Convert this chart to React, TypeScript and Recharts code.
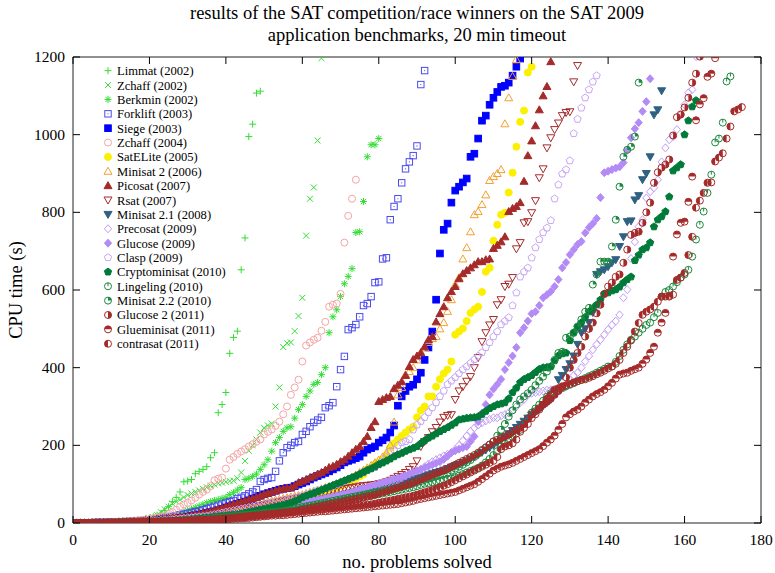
// Cactus plot of SAT competition winners on the SAT 2009 application set.
// One scatter per solver, x = number of problems solved, y = CPU time of that
// problem. Marker shapes are drawn by hand so the gnuplot symbols survive.

import { ReferenceArea, Scatter, ScatterChart, XAxis, YAxis } from "recharts";

const W = 775;
const H = 573;
const PLOT_LEFT = 73;
const PLOT_RIGHT = 761;
const PLOT_TOP = 57;
const PLOT_BOTTOM = 523;
const FONT = '"Liberation Serif", "DejaVu Serif", serif';
const LABEL_SIZE = 18.5;

const X_TICKS = [0, 20, 40, 60, 80, 100, 120, 140, 160, 180];
const Y_TICKS = [0, 200, 400, 600, 800, 1000, 1200];

// CPU time (s) of the n-th solved problem, n = 1..length
const limmat = [
  0, 0, 0, 1, 1, 1, 2, 2, 2, 3, 3, 4, 4, 5, 6, 7, 8, 9, 11, 13,
  16, 20, 25, 32, 42, 55, 66, 80, 106, 108, 112, 127, 133, 138, 145, 168, 181, 284, 305, 336,
  437, 478, 494, 652, 734, 995, 1027, 1107, 1112,
];
const zchaff02 = [
  0, 0, 0, 1, 1, 1, 1, 2, 2, 2, 3, 3, 4, 4, 5, 6, 7, 8, 10, 12,
  15, 20, 28, 35, 42, 50, 55, 60, 66, 72, 76, 80, 84, 88, 92, 96, 99, 102, 104, 106,
  108, 109, 115, 130, 160, 186, 200, 215, 233, 245, 251, 256, 300, 349, 453, 463, 465, 494, 533, 580,
  740, 835, 864, 985, 1197,
];
const berkmin = [
  0, 0, 0, 1, 1, 1, 1, 2, 2, 2, 2, 3, 3, 4, 4, 5, 5, 6, 7, 8,
  9, 10, 12, 14, 16, 18, 21, 24, 28, 32, 36, 40, 44, 48, 52, 55, 58, 60, 63, 66,
  73, 78, 85, 91, 112, 115, 120, 126, 138, 150, 163, 185, 207, 220, 236, 245, 248, 270, 292, 305,
  326, 340, 357, 362, 382, 400, 490, 531, 549, 583, 616, 635, 655, 748, 750, 828, 943, 974, 974, 990,
];
const forklift = [
  0, 0, 0, 0, 1, 1, 1, 1, 2, 2, 2, 3, 3, 4, 4, 5, 5, 6, 7, 8,
  9, 10, 12, 13, 15, 17, 19, 21, 23, 25, 27, 29, 31, 34, 37, 40, 43, 46, 49, 52,
  55, 58, 63, 66, 70, 75, 80, 86, 107, 112, 115, 117, 133, 160, 181, 194, 200, 207, 210, 228,
  236, 248, 259, 265, 272, 297, 302, 310, 351, 395, 429, 498, 503, 511, 531, 560, 565, 583, 619, 621,
  680, 683, 781, 815, 835, 876, 912, 930, 946, 971, 1129, 1165,
];
const siege = [
  0, 0, 0, 0, 0, 1, 1, 1, 1, 1, 2, 2, 2, 3, 3, 3, 4, 4, 5, 5,
  6, 7, 8, 9, 10, 11, 12, 13, 14, 16, 18, 20, 22, 24, 26, 28, 30, 33, 36, 40,
  43, 46, 49, 52, 55, 58, 62, 66, 70, 74, 77, 80, 83, 86, 88, 90, 91, 95, 99, 103,
  107, 112, 117, 121, 125, 129, 133, 138, 143, 149, 156, 160, 163, 167, 171, 181, 189, 193, 197, 207,
  213, 220, 233, 251, 302, 326, 340, 351, 356, 370, 387, 420, 452, 493, 575, 694, 755, 771, 825, 856,
  866, 877, 887, 943, 951, 990, 1036, 1049, 1077, 1095, 1110, 1123, 1126, 1134, 1152, 1175, 1196,
];
const zchaff04 = [
  0, 0, 0, 1, 1, 1, 1, 2, 2, 2, 3, 3, 4, 4, 5, 6, 7, 8, 9, 10,
  12, 14, 17, 20, 24, 28, 34, 42, 48, 52, 58, 65, 73, 80, 86, 95, 110, 114, 117, 140,
  163, 170, 178, 184, 190, 197, 203, 209, 215, 228, 235, 241, 250, 261, 280, 300, 330, 349, 369, 416,
  457, 465, 472, 477, 495, 518, 557, 562, 565, 590, 722, 791, 835, 884,
];
const satelite = [
  0, 0, 0, 0, 0, 1, 1, 1, 1, 1, 1, 2, 2, 2, 2, 3, 3, 3, 4, 4,
  5, 5, 6, 6, 7, 8, 8, 9, 10, 11, 12, 13, 14, 15, 16, 17, 18, 20, 22, 24,
  26, 28, 30, 32, 34, 36, 38, 40, 43, 46, 48, 51, 54, 56, 58, 60, 62, 64, 66, 68,
  70, 72, 75, 78, 79, 81, 84, 86, 91, 96, 100, 104, 110, 115, 120, 125, 138, 142, 151, 155,
  163, 175, 194, 205, 215, 224, 233, 241, 248, 272, 290, 300, 326, 326, 351, 370, 385, 395, 416, 485,
  493, 501, 520, 541, 550, 557, 595, 647, 657, 727, 768, 794, 799, 851, 902, 969, 1033, 1062, 1160, 1175,
];
const minisat2 = [
  0, 0, 0, 0, 1, 1, 1, 1, 1, 2, 2, 2, 2, 3, 3, 3, 4, 4, 5, 5,
  6, 6, 7, 8, 9, 10, 11, 12, 13, 14, 15, 16, 17, 18, 19, 21, 23, 25, 27, 29,
  31, 33, 35, 37, 39, 41, 43, 46, 49, 52, 55, 57, 59, 61, 63, 65, 67, 69, 71, 73,
  76, 79, 82, 85, 88, 91, 94, 97, 100, 104, 108, 113, 118, 124, 130, 136, 142, 148, 155, 162,
  170, 180, 200, 260, 330, 349, 382, 390, 400, 420, 440, 451, 465, 475, 480, 500, 516, 545, 575, 614,
  632, 680, 709, 750, 794, 802, 820, 845, 882, 892, 900, 910, 1028, 1095, 1150, 1193,
];
const picosat = [
  0, 0, 0, 0, 1, 1, 1, 1, 2, 2, 2, 3, 3, 3, 4, 4, 5, 5, 6, 7,
  8, 9, 10, 11, 12, 13, 14, 15, 16, 18, 20, 22, 24, 26, 28, 30, 33, 36, 39, 42,
  45, 48, 51, 54, 57, 60, 63, 66, 70, 74, 77, 80, 83, 86, 88, 90, 91, 96, 104, 108,
  112, 117, 121, 126, 130, 136, 143, 146, 151, 158, 163, 172, 181, 190, 197, 210, 223, 246, 261, 313,
  318, 323, 326, 346, 355, 364, 380, 403, 421, 430, 438, 454, 472, 480, 518, 539, 557, 580, 596, 609,
  629, 642, 650, 657, 665, 673, 673, 678, 680, 707, 715, 724, 737, 802, 810, 815, 825, 880, 946, 984,
  1023, 1064, 1100, 1124, 1188,
];
const rsat = [
  0, 0, 0, 0, 1, 1, 1, 1, 1, 2, 2, 2, 3, 3, 3, 4, 4, 5, 5, 6,
  6, 7, 7, 8, 9, 10, 11, 12, 13, 14, 15, 16, 17, 18, 19, 20, 21, 23, 25, 27,
  29, 31, 33, 35, 37, 39, 41, 43, 45, 47, 49, 51, 53, 55, 57, 59, 61, 63, 65, 67,
  69, 71, 73, 75, 77, 79, 81, 83, 85, 87, 89, 90, 91, 93, 95, 96, 97, 98, 99, 101,
  103, 106, 110, 115, 120, 125, 130, 138, 145, 160, 197, 210, 220, 235, 246, 260, 272, 277, 279, 318,
  340, 351, 365, 377, 400, 426, 467, 490, 510, 524, 562, 575, 609, 615, 632, 706, 722, 773, 776, 799,
  830, 889, 912, 966, 992, 1013, 1030, 1049, 1057, 1059, 1136, 1178,
];
const minisat21 = [
  0, 0, 0, 0, 0, 0, 1, 1, 1, 1, 1, 1, 2, 2, 2, 2, 3, 3, 3, 4,
  4, 4, 5, 5, 6, 6, 7, 7, 8, 8, 9, 10, 10, 11, 12, 13, 14, 15, 16, 17,
  18, 19, 20, 21, 22, 23, 24, 26, 28, 30, 32, 34, 36, 38, 40, 42, 44, 46, 48, 50,
  52, 54, 56, 58, 60, 62, 64, 66, 68, 70, 72, 74, 76, 78, 80, 82, 84, 86, 88, 90,
  92, 94, 96, 98, 100, 103, 106, 109, 112, 115, 118, 121, 124, 127, 130, 133, 136, 140, 144, 148,
  152, 156, 160, 165, 170, 176, 182, 188, 194, 200, 207, 214, 222, 230, 238, 246, 254, 262, 270, 278,
  286, 294, 302, 310, 318, 340, 369, 380, 395, 410, 430, 460, 490, 500, 516, 542, 640, 647, 652, 660,
  670, 678, 712, 737, 776, 778, 832, 843, 884, 900, 943, 1051, 1064, 1113,
];
const precosat = [
  0, 0, 0, 0, 0, 0, 0, 1, 1, 1, 1, 1, 1, 2, 2, 2, 2, 3, 3, 3,
  4, 4, 4, 5, 5, 6, 6, 7, 7, 8, 8, 9, 9, 10, 11, 11, 12, 13, 14, 15,
  16, 17, 18, 19, 20, 21, 22, 23, 24, 26, 27, 28, 30, 31, 33, 34, 36, 38, 40, 42,
  44, 46, 48, 50, 52, 54, 56, 58, 60, 62, 64, 66, 68, 70, 73, 76, 79, 82, 86, 90,
  94, 98, 102, 106, 111, 116, 121, 126, 131, 135, 138, 145, 152, 158, 163, 168, 173, 177, 181, 190,
  200, 212, 224, 236, 245, 252, 258, 263, 267, 271, 271, 276, 279, 284, 290, 300, 310, 318, 330, 334,
  336, 338, 340, 342, 343, 345, 347, 349, 351, 368, 380, 387, 400, 416, 430, 446, 460, 472, 485, 498,
  510, 520, 536, 580, 601, 681, 724, 763, 781, 837, 853, 863, 884, 930, 966, 987, 995, 1013, 1051, 1077,
  1108, 1116, 1201,
];
const glucose = [
  0, 0, 0, 0, 0, 1, 1, 1, 1, 1, 1, 2, 2, 2, 2, 3, 3, 3, 4, 4,
  4, 5, 5, 6, 6, 7, 7, 8, 9, 10, 11, 12, 13, 14, 15, 16, 17, 18, 19, 20,
  21, 22, 23, 24, 25, 26, 27, 28, 30, 32, 34, 36, 38, 40, 42, 44, 46, 48, 50, 52,
  54, 56, 58, 60, 62, 64, 66, 68, 70, 72, 74, 77, 80, 83, 86, 89, 92, 95, 98, 101,
  104, 107, 110, 113, 116, 119, 122, 126, 130, 134, 138, 142, 146, 150, 154, 158, 164, 172, 181, 186,
  190, 194, 197, 210, 223, 261, 283, 305, 330, 345, 357, 370, 395, 413, 430, 452, 490, 503, 520, 539,
  544, 560, 580, 588, 596, 609, 627, 657, 671, 691, 704, 717, 725, 747, 761, 771, 784, 838, 902, 906,
  910, 914, 917, 928, 960, 992, 1015, 1031, 1060, 1085, 1144,
];
const clasp = [
  0, 0, 0, 0, 1, 1, 1, 1, 1, 2, 2, 2, 2, 3, 3, 3, 4, 4, 5, 5,
  6, 6, 7, 8, 8, 9, 10, 11, 12, 13, 14, 15, 16, 17, 18, 20, 22, 24, 26, 28,
  30, 32, 34, 36, 38, 40, 42, 44, 46, 48, 50, 52, 54, 56, 58, 60, 62, 64, 67, 70,
  73, 76, 80, 84, 86, 89, 92, 95, 99, 103, 107, 112, 116, 120, 126, 130, 135, 140, 143, 150,
  158, 170, 185, 189, 200, 207, 210, 215, 240, 253, 262, 272, 285, 297, 310, 326, 340, 357, 366, 375,
  385, 395, 403, 412, 421, 430, 439, 452, 465, 480, 493, 511, 520, 529, 560, 593, 634, 647, 657, 683,
  709, 730, 748, 760, 779, 835, 871, 899, 910, 933, 1003, 1040, 1069, 1095, 1116, 1136, 1152,
];
const cryptominisat = [
  0, 0, 0, 0, 0, 1, 1, 1, 1, 1, 1, 2, 2, 2, 2, 3, 3, 3, 3, 4,
  4, 4, 5, 5, 6, 6, 7, 7, 8, 9, 10, 11, 12, 13, 14, 15, 16, 17, 18, 19,
  20, 21, 22, 24, 26, 28, 30, 32, 34, 36, 38, 40, 42, 44, 46, 49, 52, 56, 60, 66,
  70, 74, 77, 81, 85, 89, 93, 97, 101, 105, 109, 113, 117, 121, 126, 131, 136, 140, 145, 151,
  155, 160, 165, 171, 176, 180, 185, 189, 193, 197, 205, 212, 219, 224, 230, 236, 241, 246, 252, 258,
  266, 268, 270, 271, 272, 274, 280, 288, 295, 300, 305, 307, 310, 320, 336, 348, 362, 370, 375, 380,
  388, 396, 400, 401, 403, 418, 431, 436, 438, 470, 490, 505, 516, 530, 544, 553, 562, 575, 590, 593,
  598, 601, 608, 619, 627, 634, 676, 690, 704, 709, 722, 763, 781, 789, 802, 840, 907, 915, 923, 1000,
  1036, 1072, 1088,
];
const lingeling = [
  0, 0, 0, 0, 0, 0, 1, 1, 1, 1, 1, 1, 1, 2, 2, 2, 2, 3, 3, 3,
  3, 4, 4, 4, 5, 5, 6, 6, 7, 7, 8, 8, 9, 9, 10, 10, 11, 12, 13, 14,
  15, 16, 17, 18, 19, 20, 21, 22, 23, 24, 25, 26, 27, 28, 29, 30, 31, 32, 33, 35,
  36, 38, 40, 42, 44, 46, 48, 50, 52, 54, 56, 58, 60, 62, 64, 66, 68, 70, 72, 74,
  76, 78, 80, 82, 84, 86, 88, 90, 92, 95, 98, 101, 103, 105, 107, 109, 111, 113, 115, 118,
  122, 126, 130, 134, 138, 142, 148, 156, 165, 175, 185, 197, 205, 215, 222, 230, 240, 255, 270, 284,
  295, 305, 315, 325, 334, 338, 342, 347, 352, 356, 360, 365, 369, 373, 378, 382, 387, 392, 397, 403,
  403, 415, 430, 446, 460, 472, 480, 490, 500, 510, 516, 530, 541, 583, 595, 600, 609, 620, 632, 640,
  652, 686, 730, 768, 802, 850, 897, 980, 990, 1031, 1137, 1150,
];
const minisat22 = [
  0, 0, 0, 0, 0, 1, 1, 1, 1, 1, 1, 2, 2, 2, 2, 3, 3, 3, 3, 4,
  4, 4, 5, 5, 5, 6, 6, 7, 7, 8, 8, 9, 9, 10, 11, 12, 13, 14, 15, 16,
  17, 18, 19, 20, 21, 22, 23, 24, 25, 26, 27, 28, 29, 30, 31, 33, 35, 37, 39, 41,
  43, 45, 47, 49, 51, 53, 55, 57, 59, 61, 63, 65, 67, 69, 71, 73, 75, 77, 79, 81,
  83, 85, 87, 89, 91, 93, 96, 99, 102, 105, 108, 111, 114, 117, 120, 123, 126, 130, 135, 140,
  145, 150, 156, 162, 170, 178, 186, 194, 202, 210, 225, 240, 255, 274, 290, 305, 318, 326, 334, 343,
  355, 366, 377, 390, 403, 420, 438, 441, 477, 480, 490, 506, 524, 544, 554, 614, 640, 673, 673, 673,
  712, 781, 866, 943, 961, 969, 995, 1134,
];
const glucose2 = [
  0, 0, 0, 0, 0, 0, 1, 1, 1, 1, 1, 1, 1, 2, 2, 2, 2, 2, 3, 3,
  3, 3, 4, 4, 4, 5, 5, 5, 6, 6, 7, 7, 8, 8, 9, 9, 10, 10, 11, 12,
  13, 14, 15, 16, 17, 18, 19, 20, 21, 22, 23, 24, 25, 26, 27, 28, 29, 30, 32, 34,
  36, 38, 40, 42, 44, 46, 48, 50, 52, 54, 56, 58, 60, 62, 64, 66, 68, 70, 73, 76,
  79, 82, 85, 88, 91, 94, 97, 100, 104, 108, 112, 116, 120, 124, 128, 132, 136, 140, 145, 150,
  155, 160, 165, 170, 175, 181, 188, 195, 202, 210, 214, 218, 223, 228, 235, 240, 245, 255, 268, 280,
  288, 296, 305, 312, 320, 330, 340, 350, 375, 400, 420, 438, 454, 480, 500, 516, 540, 562, 590, 609,
  619, 634, 640, 670, 704, 742, 747, 750, 773, 800, 825, 876, 903, 915, 923, 936, 998, 1045, 1052, 1070,
  1095, 1134, 1157, 1201,
];
const glueminisat = [
  0, 0, 0, 0, 0, 0, 0, 1, 1, 1, 1, 1, 1, 1, 2, 2, 2, 2, 2, 3,
  3, 3, 3, 4, 4, 4, 5, 5, 5, 6, 6, 6, 7, 7, 7, 8, 8, 9, 9, 10,
  10, 11, 11, 12, 12, 13, 14, 15, 16, 17, 18, 19, 19, 20, 20, 21, 22, 23, 24, 25,
  26, 27, 28, 29, 30, 30, 31, 32, 33, 34, 35, 36, 37, 38, 39, 40, 41, 42, 43, 44,
  45, 46, 47, 48, 49, 51, 53, 55, 57, 60, 62, 64, 66, 68, 70, 72, 74, 76, 78, 80,
  84, 88, 92, 96, 100, 106, 113, 120, 127, 135, 140, 145, 148, 151, 155, 160, 165, 170, 175, 180,
  185, 190, 198, 207, 215, 225, 240, 255, 272, 280, 287, 292, 300, 310, 318, 326, 332, 337, 343, 352,
  361, 372, 382, 385, 387, 392, 396, 400, 410, 421, 438, 454, 490, 516, 541, 583, 686, 743, 773, 776,
  827, 892, 1037, 1078, 1094, 1149, 1157, 1197,
];
const contrasat = [
  0, 0, 0, 0, 0, 0, 0, 1, 1, 1, 1, 1, 1, 2, 2, 2, 2, 2, 3, 3,
  3, 3, 4, 4, 4, 5, 5, 5, 6, 6, 7, 7, 7, 8, 8, 9, 9, 10, 10, 11,
  11, 12, 13, 14, 15, 16, 17, 18, 19, 20, 21, 22, 23, 24, 25, 26, 27, 28, 29, 30,
  31, 32, 33, 34, 35, 36, 37, 38, 39, 40, 41, 42, 43, 44, 45, 46, 47, 48, 50, 52,
  54, 56, 58, 60, 62, 64, 66, 68, 70, 73, 76, 79, 82, 85, 88, 92, 96, 100, 105, 110,
  115, 120, 125, 130, 135, 140, 145, 150, 155, 160, 170, 190, 197, 200, 205, 215, 235, 245, 255, 270,
  280, 292, 305, 320, 330, 343, 347, 352, 355, 358, 362, 365, 368, 370, 374, 378, 383, 387, 392, 398,
  403, 410, 420, 438, 454, 470, 493, 515, 536, 544, 550, 557, 570, 583, 583, 585, 588, 626, 632, 644,
  690, 737, 812, 830, 850, 876, 877, 931, 941, 952, 990, 1021, 1060, 1065, 1071,
];

type Kind =
  | "plus" | "cross" | "star" | "sqDot" | "sqFill" | "circ" | "circFill"
  | "triUp" | "triUpFill" | "triDown" | "triDownFill" | "dia" | "diaFill"
  | "pent" | "pentFill" | "circTick" | "circQuarter" | "circHalfR" | "circHalfT" | "circHalfL";

const GREEN = "#33dd33";
const BROWN = "#a52a2a";

const SERIES: { name: string; kind: Kind; color: string; ys: number[] }[] = [
  { name: "Limmat (2002)", kind: "plus", color: GREEN, ys: limmat },
  { name: "Zchaff (2002)", kind: "cross", color: GREEN, ys: zchaff02 },
  { name: "Berkmin (2002)", kind: "star", color: GREEN, ys: berkmin },
  { name: "Forklift (2003)", kind: "sqDot", color: "#4a4aef", ys: forklift },
  { name: "Siege (2003)", kind: "sqFill", color: "#0000ff", ys: siege },
  { name: "Zchaff (2004)", kind: "circ", color: "#f5a5a5", ys: zchaff04 },
  { name: "SatELite (2005)", kind: "circFill", color: "#fbf000", ys: satelite },
  { name: "Minisat 2 (2006)", kind: "triUp", color: "#f2a030", ys: minisat2 },
  { name: "Picosat (2007)", kind: "triUpFill", color: BROWN, ys: picosat },
  { name: "Rsat (2007)", kind: "triDown", color: BROWN, ys: rsat },
  { name: "Minisat 2.1 (2008)", kind: "triDownFill", color: "#2f6183", ys: minisat21 },
  { name: "Precosat (2009)", kind: "dia", color: "#c19cf5", ys: precosat },
  { name: "Glucose (2009)", kind: "diaFill", color: "#b48af7", ys: glucose },
  { name: "Clasp (2009)", kind: "pent", color: "#c6a6f4", ys: clasp },
  { name: "Cryptominisat (2010)", kind: "pentFill", color: "#007a38", ys: cryptominisat },
  { name: "Lingeling (2010)", kind: "circTick", color: "#1b8a3e", ys: lingeling },
  { name: "Minisat 2.2 (2010)", kind: "circQuarter", color: "#1b8a3e", ys: minisat22 },
  { name: "Glucose 2 (2011)", kind: "circHalfR", color: BROWN, ys: glucose2 },
  { name: "Glueminisat (2011)", kind: "circHalfT", color: BROWN, ys: glueminisat },
  { name: "contrasat (2011)", kind: "circHalfL", color: BROWN, ys: contrasat },
];

function Mark({ kind, color, x, y }: { kind: Kind; color: string; x: number; y: number }) {
  const r = 3.5;
  const line = { stroke: color, strokeWidth: 1, fill: "none" };
  const solid = { stroke: color, strokeWidth: 1, fill: color };
  switch (kind) {
    case "plus":
      return <path d={`M${x - r},${y}H${x + r}M${x},${y - r}V${y + r}`} {...line} />;
    case "cross":
      return <path d={`M${x - 3},${y - 3}L${x + 3},${y + 3}M${x - 3},${y + 3}L${x + 3},${y - 3}`} {...line} />;
    case "star":
      return (
        <path
          d={`M${x - r},${y}H${x + r}M${x},${y - r}V${y + r}M${x - 2.6},${y - 2.6}L${x + 2.6},${y + 2.6}M${x - 2.6},${y + 2.6}L${x + 2.6},${y - 2.6}`}
          {...line}
        />
      );
    case "sqDot":
      return (
        <g>
          <rect x={x - 3.2} y={y - 3.2} width={6.4} height={6.4} {...line} />
          <circle cx={x} cy={y} r={0.6} fill={color} />
        </g>
      );
    case "sqFill":
      return <rect x={x - 3.3} y={y - 3.3} width={6.6} height={6.6} {...solid} />;
    case "circ":
      return <circle cx={x} cy={y} r={r} {...line} />;
    case "circFill":
      return <circle cx={x} cy={y} r={r} {...solid} />;
    case "triUp":
    case "triUpFill":
      return (
        <polygon
          points={`${x},${y - 4} ${x + 4},${y + 3} ${x - 4},${y + 3}`}
          {...(kind === "triUp" ? line : solid)}
        />
      );
    case "triDown":
    case "triDownFill":
      return (
        <polygon
          points={`${x},${y + 4} ${x + 4},${y - 3} ${x - 4},${y - 3}`}
          {...(kind === "triDown" ? line : solid)}
        />
      );
    case "dia":
    case "diaFill":
      return (
        <polygon
          points={`${x},${y - 4} ${x + 3.6},${y} ${x},${y + 4} ${x - 3.6},${y}`}
          {...(kind === "dia" ? line : solid)}
        />
      );
    case "pent":
    case "pentFill": {
      const pts = [0, 1, 2, 3, 4]
        .map((k) => {
          const a = ((-90 + k * 72) * Math.PI) / 180;
          return `${x + 3.8 * Math.cos(a)},${y + 3.8 * Math.sin(a)}`;
        })
        .join(" ");
      return <polygon points={pts} {...(kind === "pent" ? line : solid)} />;
    }
    case "circTick":
      return (
        <g>
          <circle cx={x} cy={y} r={r} {...line} />
          <path d={`M${x},${y - r}V${y}`} {...line} />
        </g>
      );
    case "circQuarter":
      return (
        <g>
          <circle cx={x} cy={y} r={r} {...line} />
          <path d={`M${x},${y}L${x},${y - r}A${r},${r} 0 0 1 ${x + r},${y}Z`} fill={color} />
        </g>
      );
    case "circHalfR":
      return (
        <g>
          <circle cx={x} cy={y} r={r} {...line} />
          <path d={`M${x},${y - r}A${r},${r} 0 0 1 ${x},${y + r}Z`} fill={color} />
        </g>
      );
    case "circHalfT":
      return (
        <g>
          <circle cx={x} cy={y} r={r} {...line} />
          <path d={`M${x - r},${y}A${r},${r} 0 0 1 ${x + r},${y}Z`} fill={color} />
        </g>
      );
    case "circHalfL":
      return (
        <g>
          <circle cx={x} cy={y} r={r} {...line} />
          <path d={`M${x},${y + r}A${r},${r} 0 0 1 ${x},${y - r}Z`} fill={color} />
        </g>
      );
  }
}

// bottom tick labels + inward ticks on bottom and top borders
function XTick(props: any) {
  const { x, payload } = props;
  return (
    <g>
      <line x1={x} y1={PLOT_BOTTOM} x2={x} y2={PLOT_BOTTOM - 7} stroke="#000" />
      <line x1={x} y1={PLOT_TOP} x2={x} y2={PLOT_TOP + 7} stroke="#000" />
      <text x={x} y={PLOT_BOTTOM + 22} textAnchor="middle" fontFamily={FONT} fontSize={15.5} fill="#000">
        {payload.value}
      </text>
    </g>
  );
}

// left tick labels + inward ticks on left and right borders
function YTick(props: any) {
  const { y, payload } = props;
  return (
    <g>
      <line x1={PLOT_LEFT} y1={y} x2={PLOT_LEFT + 7} y2={y} stroke="#000" />
      <line x1={PLOT_RIGHT} y1={y} x2={PLOT_RIGHT - 7} y2={y} stroke="#000" />
      <text x={PLOT_LEFT - 8} y={y + 5} textAnchor="end" fontFamily={FONT} fontSize={15.5} fill="#000">
        {payload.value}
      </text>
    </g>
  );
}

export default function App() {
  return (
    <div style={{ position: "absolute", left: 0, top: 0, width: W, height: H, background: "#fff" }}>
      <ScatterChart
        width={W}
        height={H}
        margin={{ top: PLOT_TOP, right: W - PLOT_RIGHT, bottom: H - PLOT_BOTTOM - 40, left: PLOT_LEFT - 60 }}
      >
        <XAxis
          dataKey="x"
          type="number"
          domain={[0, 180]}
          ticks={X_TICKS}
          interval={0}
          tick={XTick}
          tickLine={false}
          axisLine={false}
          tickSize={0}
          height={40}
          allowDataOverflow
        />
        <YAxis
          dataKey="y"
          type="number"
          domain={[0, 1200]}
          ticks={Y_TICKS}
          interval={0}
          tick={YTick}
          tickLine={false}
          axisLine={false}
          tickSize={0}
          width={60}
          allowDataOverflow
        />
        {SERIES.map((s) => (
          <Scatter
            key={s.name}
            name={s.name}
            data={s.ys.map((y, i) => ({ x: i + 1, y }))}
            fill={s.color}
            isAnimationActive={false}
            shape={(p: any) => <Mark kind={s.kind} color={s.color} x={p.cx} y={p.cy} />}
          />
        ))}
        <ReferenceArea x1={0} x2={180} y1={0} y2={1200} fill="none" fillOpacity={0} stroke="#222" strokeWidth={1} />
      </ScatterChart>

      <svg width={W} height={H} style={{ position: "absolute", left: 0, top: 0, pointerEvents: "none" }}>
        <g fontFamily={FONT} fill="#000">
          <text x={417} y={18.5} textAnchor="middle" fontSize={LABEL_SIZE}>
            results of the SAT competition/race winners on the SAT 2009
          </text>
          <text x={417} y={40.5} textAnchor="middle" fontSize={LABEL_SIZE}>
            application benchmarks, 20 min timeout
          </text>
          <text x={417} y={568} textAnchor="middle" fontSize={LABEL_SIZE}>
            no. problems solved
          </text>
          <text x={22} y={290} textAnchor="middle" fontSize={LABEL_SIZE} transform="rotate(-90 22 290)">
            CPU time (s)
          </text>
        </g>
        {SERIES.map((s, i) => {
          const cy = 70.7 + i * 14.37;
          return (
            <g key={s.name}>
              <Mark kind={s.kind} color={s.color} x={108} y={cy} />
              <text x={117} y={cy + 4.5} fontFamily={FONT} fontSize={12.6} fill="#000">
                {s.name}
              </text>
            </g>
          );
        })}
      </svg>
    </div>
  );
}
